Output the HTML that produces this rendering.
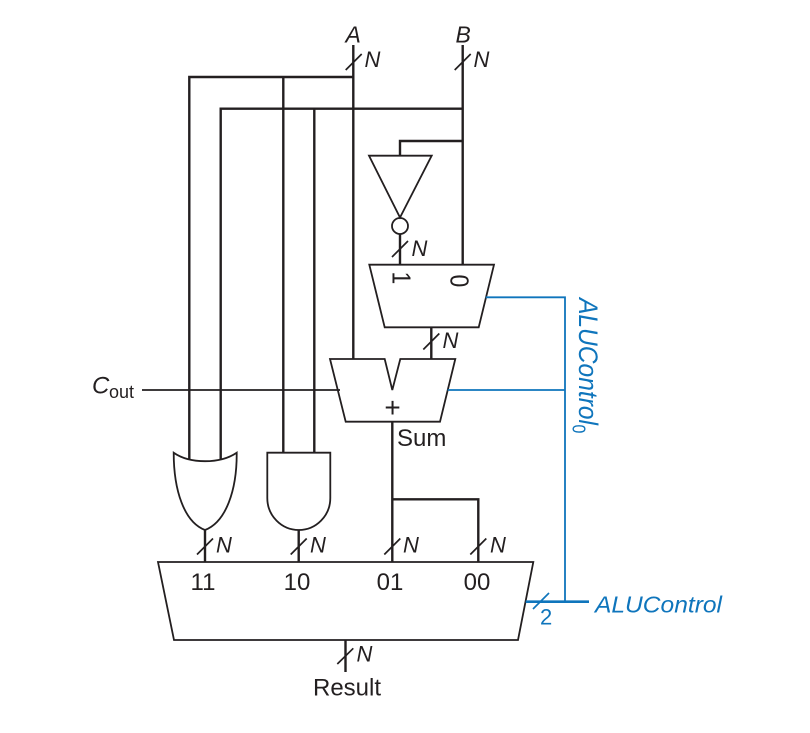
<!DOCTYPE html>
<html>
<head>
<meta charset="utf-8">
<style>
html,body{margin:0;padding:0;background:#fff;width:810px;height:733px;overflow:hidden}
svg{display:block}
text{font-family:"Liberation Sans",sans-serif;font-size:24px;fill:#231f20}
.i{font-style:italic}
.n{font-size:22px}
.b{fill:#0f75bc}
</style>
</head>
<body>
<svg width="810" height="733" viewBox="0 0 810 733" xmlns="http://www.w3.org/2000/svg">
<g fill="none" stroke="#231f20" stroke-width="2.4">
  <path d="M353.3 45V359M462.7 45V265"/>
  <path d="M189.3 460V77H353.3M220.7 460V108.7H462.7M283.3 77V452.7M314.3 108.7V452.7"/>
  <path d="M462.7 141H400V155.7M400 234V265M431.3 327V359M392.3 421.7V562M392.3 499.3H478.3V562M205 530V562M298.7 530V562M345.5 640V672"/>
</g>
<g fill="none" stroke="#231f20" stroke-width="1.8" stroke-linejoin="miter">
  <path d="M369 155.7H431.7L400 217.5Z"/>
  <circle cx="400" cy="226" r="8"/>
  <path d="M369.3 264.7H494L478.7 327.3H384.7Z"/>
  <path d="M330 359H384.7L392.3 390L400.3 359H455.3L440 421.7H345.7Z"/>
  <path d="M158 562H533.3L518 640H174Z"/>
  <path d="M173.7 452.7C190 464 220 464 236.7 452.7C237 490 226 522 205 530C184 522 173.7 490 173.7 452.7Z"/>
  <path d="M267.3 452.7H330.3V498A31.5 32 0 0 1 267.3 498Z"/>
  <path d="M142 390H340"/>
</g>
<g fill="none" stroke="#231f20" stroke-width="1.7">
  <path d="M345.7 70L361.7 54M454.7 70L470.7 54M392 257L408 241M423.3 349.5L439.3 333.5M197 554.5L213 538.5M290.7 554.5L306.7 538.5M384.3 554.5L400.3 538.5M470.3 554.5L486.3 538.5M337.3 664L353.3 648.3"/>
</g>
<g fill="none" stroke="#0f75bc" stroke-width="1.8">
  <path d="M485.7 297.3H565V601.7M447.7 390H565"/>
</g>
<path d="M525.7 601.7H589" fill="none" stroke="#0f75bc" stroke-width="2.6"/>
<path d="M533 609L549 593" fill="none" stroke="#0f75bc" stroke-width="1.7"/>

<text class="i" x="345.5" y="42.7" style="font-size:23px">A</text>
<text class="i" x="455.5" y="42.7" style="font-size:23px">B</text>
<text class="i n" x="364.5" y="67">N</text>
<text class="i n" x="473.5" y="67">N</text>
<text class="i n" x="411.5" y="256">N</text>
<text class="i n" x="442.5" y="348">N</text>
<text class="i n" x="216" y="552.7">N</text>
<text class="i n" x="310" y="552.7">N</text>
<text class="i n" x="403" y="552.7">N</text>
<text class="i n" x="490" y="552.7">N</text>
<text class="i n" x="356.5" y="661.7">N</text>

<text transform="translate(392.5 271.5) rotate(90) scale(1 1.12)" style="font-size:23px">1</text>
<text transform="translate(450.5 274.5) rotate(90) scale(1 1.12)" style="font-size:23px">0</text>
<text x="392.5" y="417" text-anchor="middle" style="font-size:28px">+</text>
<text x="397" y="446">Sum</text>
<text x="203" y="590" text-anchor="middle">11</text>
<text x="297" y="590" text-anchor="middle">10</text>
<text x="390" y="590" text-anchor="middle">01</text>
<text x="477" y="590" text-anchor="middle">00</text>
<text x="347" y="695.7" text-anchor="middle">Result</text>
<text class="i" x="92" y="393.5">C</text>
<text x="109" y="398" style="font-size:18px">out</text>

<text class="b" x="540" y="624.5" style="font-size:22px">2</text>
<text class="i b" x="595" y="612.7" style="font-size:23px" textLength="127" lengthAdjust="spacingAndGlyphs">ALUControl</text>
<g transform="translate(579 298) rotate(90) scale(1 1.15)">
  <text class="i b" x="0" y="0" style="font-size:23px" textLength="127" lengthAdjust="spacingAndGlyphs">ALUControl</text>
</g>
<text class="b" transform="translate(572.7 424.5) rotate(90) scale(1 1.15)" style="font-size:16px">0</text>
</svg>
</body>
</html>
